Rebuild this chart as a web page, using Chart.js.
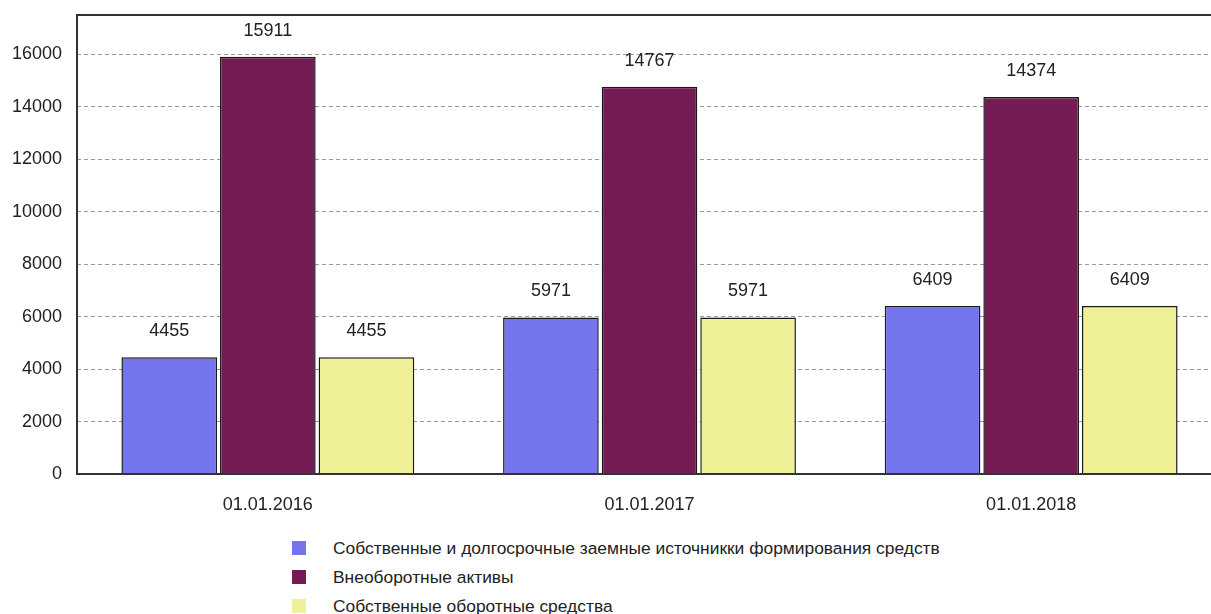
<!DOCTYPE html>
<html>
<head>
<meta charset="utf-8">
<script src="https://cdn.jsdelivr.net/npm/chart.js"></script>
<style>
  html, body { margin: 0; padding: 0; background: #fff; overflow: hidden; }
  .wrap { position: relative; width: 1211px; height: 614px; overflow: hidden; }
  .chart-box { position: absolute; left: 0; top: 0; width: 1222px; height: 520px; }
  .legend { position: absolute; left: 292px; top: 539px; font-family: "Liberation Sans", Arial, sans-serif; font-size: 17.4px; color: #222; }
  .legend div { height: 29px; position: relative; white-space: nowrap; }
  .legend span.box { position: absolute; left: 0; top: 2px; width: 14px; height: 14px; }
  .legend span.txt { position: absolute; left: 41px; top: -1px; }
</style>
</head>
<body>
<div class="wrap">
  <div class="chart-box"><canvas id="myChart"></canvas></div>
  <div class="legend" id="legend"></div>
</div>
<script>
  // Chart data
  const categories = ['01.01.2016', '01.01.2017', '01.01.2018'];
  const seriesNames = [
    'Собственные и долгосрочные заемные источникки формирования средств',
    'Внеоборотные активы',
    'Собственные оборотные средства'
  ];
  const ownAndLongTerm = [4455, 5971, 6409];
  const nonCurrentAssets = [15911, 14767, 14374];
  const ownWorkingCapital = [4455, 5971, 6409];
  const seriesColors = ['#7474EC', '#761C54', '#F0F096'];
  const yTicks = [0, 2000, 4000, 6000, 8000, 10000, 12000, 14000, 16000];

  const font = '"Liberation Sans", Arial, sans-serif';

  // value labels above bars
  const valueLabels = {
    id: 'valueLabels',
    afterDatasetsDraw(chart) {
      const ctx = chart.ctx;
      ctx.save();
      ctx.font = '18px ' + font;
      ctx.fillStyle = '#222';
      ctx.textAlign = 'center';
      ctx.textBaseline = 'middle';
      chart.data.datasets.forEach((ds, i) => {
        chart.getDatasetMeta(i).data.forEach((bar, j) => {
          ctx.fillText(String(ds.data[j]), bar.x, bar.y - 26);
        });
      });
      ctx.restore();
    }
  };

  // frame around the plot area
  const frame = {
    id: 'frame',
    afterDatasetsDraw(chart) {
      const a = chart.chartArea;
      const ctx = chart.ctx;
      ctx.save();
      ctx.strokeStyle = '#333';
      ctx.lineWidth = 2;
      ctx.strokeRect(a.left, a.top, a.right - a.left, a.bottom - a.top);
      ctx.restore();
    }
  };

  const ctx = document.getElementById('myChart').getContext('2d');
  const myChart = new Chart(ctx, {
    type: 'bar',
    data: {
      labels: categories,
      datasets: [ownAndLongTerm, nonCurrentAssets, ownWorkingCapital].map((d, i) => ({
        label: seriesNames[i],
        data: d,
        backgroundColor: seriesColors[i],
        borderColor: '#1a1a1a',
        borderWidth: 1.5,
        barPercentage: 0.97,
        categoryPercentage: 0.775
      }))
    },
    options: {
      responsive: true,
      maintainAspectRatio: false,
      animation: false,
      layout: { padding: { top: 15, right: 0, left: 0, bottom: 0 } },
      plugins: { legend: { display: false }, tooltip: { enabled: false } },
      scales: {
        x: {
          grid: { display: false },
          border: { display: false },
          ticks: { color: '#222', font: { family: font, size: 18 }, padding: 12 },
          afterFit(scale) { scale.height = 46; }
        },
        y: {
          min: 0,
          max: 17500,
          afterBuildTicks(scale) { scale.ticks = yTicks.map(v => ({ value: v })); },
          grid: { color: '#999', lineWidth: 1, drawTicks: false },
          border: { display: false, dash: [4, 3] },
          ticks: {
            color: '#222',
            font: { family: font, size: 18 },
            padding: 15,
            callback: v => String(v)
          },
          afterFit(scale) {
            scale.width = 77;
            scale.paddingTop = 0;
            scale.paddingBottom = 0;
          }
        }
      }
    },
    plugins: [valueLabels, frame]
  });

  // HTML legend
  const legend = document.getElementById('legend');
  seriesNames.forEach((name, i) => {
    const row = document.createElement('div');
    row.innerHTML = '<span class="box" style="background:' + seriesColors[i] + '"></span><span class="txt"></span>';
    row.querySelector('.txt').textContent = name;
    legend.appendChild(row);
  });
</script>
</body>
</html>
